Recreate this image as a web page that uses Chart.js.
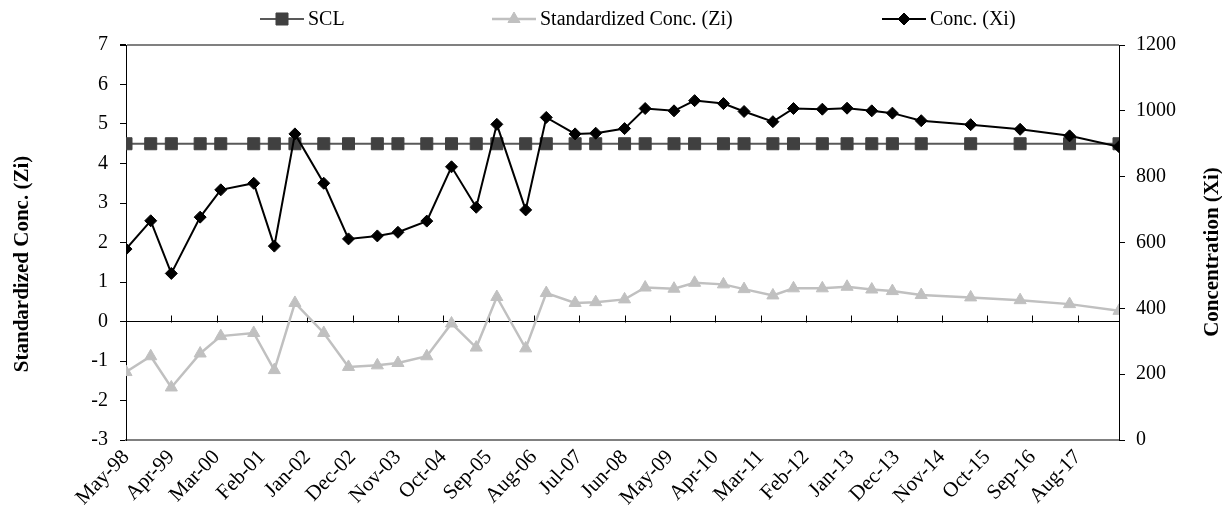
<!DOCTYPE html>
<html>
<head>
<meta charset="utf-8">
<title>Standardized concentration chart</title>
<script src="https://cdn.jsdelivr.net/npm/chart.js@4.4.1/dist/chart.umd.min.js"></script>
<style>
    html, body { margin: 0; padding: 0; background: #fff; }
    #wrap { width: 1222px; height: 517px; position: relative; }
</style>
</head>
<body>
<div id="wrap"><canvas id="chart"></canvas></div>
<script>
// Sampling dates (year-month)
const sampleDates = [
    '1998-05', '1998-11', '1999-04', '1999-11', '2000-04', '2000-12', '2001-05', '2001-10',
    '2002-05', '2002-11', '2003-06', '2003-11', '2004-06', '2004-12', '2005-06', '2005-11',
    '2006-06', '2006-11', '2007-06', '2007-11', '2008-06', '2008-11', '2009-06', '2009-11',
    '2010-06', '2010-11', '2011-06', '2011-11', '2012-06', '2012-12', '2013-06', '2013-11',
    '2014-06', '2015-06', '2016-06', '2017-06', '2018-06'
];

// Conc. (Xi) - right axis
const concXi = [
    580, 666, 506, 677, 760, 780, 589, 930,
    780, 611, 620, 631, 665, 830, 707, 959,
    699, 980, 930, 932, 946, 1007, 1000, 1031,
    1022, 998, 967, 1007, 1005, 1008, 1000, 993,
    970, 958, 944, 924, 891
];

// Standardized Conc. (Zi) - left axis
const standardizedZi = [
    -1.28, -0.88, -1.67, -0.81, -0.37, -0.29, -1.23, 0.47,
    -0.29, -1.15, -1.11, -1.05, -0.88, -0.05, -0.66, 0.62,
    -0.68, 0.72, 0.47, 0.49, 0.56, 0.86, 0.83, 0.98,
    0.94, 0.82, 0.66, 0.84, 0.84, 0.88, 0.81, 0.77,
    0.67, 0.61, 0.54, 0.44, 0.27
];

// SCL is a constant limit on the left axis
const sclLimit = 4.5;

// Date axis labels, one every 11 months starting at May-98
const tickLabels = [
    'May-98', 'Apr-99', 'Mar-00', 'Feb-01', 'Jan-02', 'Dec-02', 'Nov-03', 'Oct-04',
    'Sep-05', 'Aug-06', 'Jul-07', 'Jun-08', 'May-09', 'Apr-10', 'Mar-11', 'Feb-12',
    'Jan-13', 'Dec-13', 'Nov-14', 'Oct-15', 'Sep-16', 'Aug-17'
];
const tickStepMonths = 11;

const leftTitle = 'Standardized Conc. (Zi)';
const rightTitle = 'Concentration (Xi)';

// Months elapsed since the first sample
function monthIndex(ym) {
    const [y, m] = ym.split('-').map(Number);
    const [y0, m0] = sampleDates[0].split('-').map(Number);
    return (y - y0) * 12 + (m - m0);
}

const xValues = sampleDates.map(monthIndex);
const toPoints = values => values.map((v, i) => ({ x: xValues[i], y: v }));

const FONT = "'Liberation Serif', 'Times New Roman', serif";
Chart.defaults.font.family = FONT;
Chart.defaults.font.size = 20;
Chart.defaults.color = '#000';

// Small upward tick marks on the Zi = 0 line (the category axis crosses there)
const zeroLineTicks = {
    id: 'zeroLineTicks',
    beforeDatasetsDraw(chart) {
        const { ctx, scales: { x, y } } = chart;
        const y0 = Math.round(y.getPixelForValue(0)) + 0.5;
        ctx.save();
        ctx.strokeStyle = '#000';
        ctx.lineWidth = 1;
        ctx.beginPath();
        x.ticks.forEach(t => {
            const px = Math.round(x.getPixelForValue(t.value)) + 0.5;
            ctx.moveTo(px, y0);
            ctx.lineTo(px, y0 - 7);
        });
        ctx.stroke();
        ctx.restore();
    }
};

// Axis titles, centred on the figure height like the original
const axisTitles = {
    id: 'axisTitles',
    afterDraw(chart) {
        const ctx = chart.ctx;
        ctx.save();
        ctx.font = 'bold 21px ' + FONT;
        ctx.fillStyle = '#000';
        ctx.textAlign = 'center';
        ctx.textBaseline = 'middle';
        [[leftTitle, 23, 264], [rightTitle, 1213, 252]].forEach(([text, tx, ty]) => {
            ctx.save();
            ctx.translate(tx, ty);
            ctx.rotate(-Math.PI / 2);
            ctx.fillText(text, 0, 0);
            ctx.restore();
        });
        ctx.restore();
    }
};

// Legend row with line + marker symbols
const legendSlots = [
    { dataset: 1, x: 260 },
    { dataset: 2, x: 492 },
    { dataset: 0, x: 882 }
];
const seriesLegend = {
    id: 'seriesLegend',
    afterDraw(chart) {
        const ctx = chart.ctx;
        const ly = 19;
        ctx.save();
        legendSlots.forEach(slot => {
            const ds = chart.data.datasets[slot.dataset];
            ctx.strokeStyle = ds.borderColor;
            ctx.lineWidth = ds.borderWidth;
            ctx.beginPath();
            ctx.moveTo(slot.x, ly);
            ctx.lineTo(slot.x + 44, ly);
            ctx.stroke();
            ctx.fillStyle = ds.pointBackgroundColor;
            ctx.strokeStyle = ds.pointBorderColor;
            ctx.lineWidth = ds.pointBorderWidth;
            Chart.helpers.drawPoint(ctx, {
                pointStyle: ds.pointStyle,
                radius: ds.pointRadius,
                rotation: 0,
                borderWidth: ds.pointBorderWidth
            }, slot.x + 22, ly);
            ctx.fillStyle = '#000';
            ctx.font = '20px ' + FONT;
            ctx.textAlign = 'left';
            ctx.textBaseline = 'middle';
            ctx.fillText(ds.label, slot.x + 48, ly + 1);
        });
        ctx.restore();
    }
};

new Chart(document.getElementById('chart'), {
    type: 'line',
    data: {
        datasets: [
            {
                label: 'Conc. (Xi)',
                data: toPoints(concXi),
                yAxisID: 'y1',
                borderColor: '#000',
                borderWidth: 2,
                pointStyle: 'rectRot',
                pointRadius: 6,
                pointBackgroundColor: '#000',
                pointBorderColor: '#000',
                pointBorderWidth: 1,
                order: 0
            },
            {
                label: 'SCL',
                data: sampleDates.map((d, i) => ({ x: xValues[i], y: sclLimit })),
                yAxisID: 'y',
                borderColor: '#595959',
                borderWidth: 2,
                pointStyle: 'rect',
                pointRadius: 8.5,
                pointBackgroundColor: '#404040',
                pointBorderColor: '#404040',
                pointBorderWidth: 1,
                order: 1
            },
            {
                label: 'Standardized Conc. (Zi)',
                data: toPoints(standardizedZi),
                yAxisID: 'y',
                borderColor: '#c0c0c0',
                borderWidth: 2.5,
                pointStyle: 'triangle',
                pointRadius: 7,
                pointBackgroundColor: '#c0c0c0',
                pointBorderColor: '#c0c0c0',
                pointBorderWidth: 1,
                order: 2
            }
        ]
    },
    options: {
        responsive: true,
        maintainAspectRatio: false,
        animation: false,
        layout: { padding: { top: 45, left: 0, right: 0, bottom: 0 } },
        elements: { line: { tension: 0 } },
        plugins: {
            legend: { display: false },
            tooltip: { enabled: false }
        },
        scales: {
            x: {
                type: 'linear',
                min: 0,
                max: xValues[xValues.length - 1],
                afterBuildTicks: axis => {
                    axis.ticks = tickLabels.map((_, i) => ({ value: i * tickStepMonths }));
                },
                ticks: {
                    autoSkip: false,
                    minRotation: 46,
                    maxRotation: 46,
                    padding: 5,
                    font: { size: 21 },
                    callback: (value, index) => tickLabels[index]
                },
                grid: { display: true, drawOnChartArea: false, drawTicks: false },
                border: { display: true, color: '#808080', width: 2 },
                afterFit: scale => { scale.height = 77; }
            },
            y: {
                position: 'left',
                min: -3,
                max: 7,
                ticks: { stepSize: 1, padding: 12 },
                grid: {
                    color: c => c.tick.value === 0 ? '#000' : (c.tick.value === 7 ? '#808080' : 'rgba(0,0,0,0)'),
                    lineWidth: c => c.tick.value === 7 ? 2 : 1,
                    tickColor: '#000',
                    tickLength: 6
                },
                border: { color: '#000', width: 1 },
                afterFit: scale => { scale.width = 126; }
            },
            y1: {
                position: 'right',
                min: 0,
                max: 1200,
                ticks: { stepSize: 200, padding: 11, callback: value => String(value) },
                grid: { drawOnChartArea: false, tickColor: '#000', tickLength: 6 },
                border: { color: '#000', width: 1 },
                afterFit: scale => { scale.width = 103; }
            }
        }
    },
    plugins: [zeroLineTicks, axisTitles, seriesLegend]
});
</script>
</body>
</html>
